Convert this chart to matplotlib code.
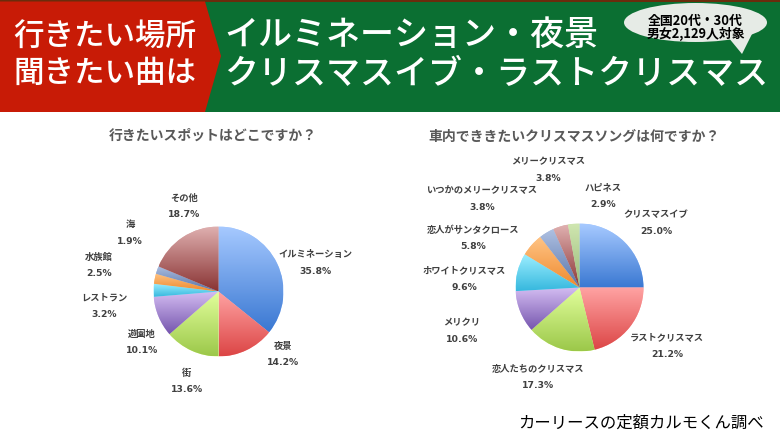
import numpy as np
import matplotlib
matplotlib.use("Agg")
import matplotlib.pyplot as plt
from matplotlib.patches import Polygon, Ellipse, Rectangle
from matplotlib.colors import to_rgb

plt.rcParams['font.family'] = ['Noto Sans CJK JP', 'DejaVu Sans']

# ---- data ----
spot_labels = ["イルミネーション", "夜景", "街", "遊園地", "レストラン", "水族館", "海", "その他"]
spot_values = [35.8, 14.2, 13.6, 10.1, 3.2, 2.5, 1.9, 18.7]

song_labels = ["クリスマスイブ", "ラストクリスマス", "恋人たちのクリスマス", "メリクリ",
               "ホワイトクリスマス", "恋人がサンタクロース", "いつかのメリークリスマス",
               "メリークリスマス", "ハピネス"]
song_values = [25.0, 21.2, 17.3, 10.6, 9.6, 5.8, 3.8, 3.8, 2.9]

title_left = "行きたいスポットはどこですか？"
title_right = "車内でききたいクリスマスソングは何ですか？"
header_red = ["行きたい場所", "聞きたい曲は"]
header_green = ["イルミネーション・夜景", "クリスマスイブ・ラストクリスマス"]
bubble_text = ["全国20代・30代", "男女2,129人対象"]
footer = "カーリースの定額カルモくん調べ"

# ---- styles ----
# (light top, dark bottom) gradient per slice, Excel-like palette order
palette = [("#a6c9ff", "#3a78d2"),
           ("#ffa3a3", "#dc4646"),
           ("#e2ff9c", "#9cc84a"),
           ("#d4bdf2", "#7656ae"),
           ("#9ceeff", "#36b8de"),
           ("#ffc384", "#ee8a2e"),
           ("#aec0e2", "#5874a8"),
           ("#dfb0b0", "#8a3434"),
           ("#cfe6b0", "#98b878")]

# label anchor positions in pixels (x, y of name line)
spot_label_pos = [(315, 255), (283, 346), (187, 373), (142, 334), (104, 298),
                  (99, 257), (130, 225), (184, 198)]
song_label_pos = [(656, 215), (667, 338), (538, 369), (462, 323), (464, 271),
                  (473, 230), (482, 191), (548, 162), (603, 188)]

W, H = 780, 439
fig = plt.figure(figsize=(W / 100, H / 100), dpi=100)
fig.patch.set_facecolor("white")

bg = fig.add_axes([0, 0, 1, 1])
bg.set_xlim(0, W)
bg.set_ylim(H, 0)
bg.axis("off")

# ---- header ----
bg.add_patch(Rectangle((0, 0), W, 113, facecolor="#0b6f32", edgecolor="none"))
bg.add_patch(Rectangle((0, 0), W, 2.5, facecolor="#6a2c0c", edgecolor="none"))
bg.add_patch(Polygon([(0, 2.5), (205, 2.5), (221, 57), (205, 113), (0, 113)],
                     closed=True, facecolor="#c81b06", edgecolor="none"))
for txt, y in zip(header_red, [37, 73]):
    bg.text(105, y, txt, color="white", fontsize=22, fontweight="medium",
            ha="center", va="center")
for txt, y in zip(header_green, [35, 75]):
    bg.text(224, y, txt, color="white", fontsize=24.5, fontweight="medium",
            ha="left", va="center")

# speech bubble
bg.add_patch(Polygon([(728, 38), (742, 55), (752, 35)], closed=True,
                     facecolor="#e6ebe6", edgecolor="none"))
bg.add_patch(Ellipse((695.5, 23.5), 143, 39, facecolor="#e6ebe6", edgecolor="none"))
for txt, y in zip(bubble_text, [21, 33.5]):
    bg.text(695.5, y, txt, color="black", fontsize=9.3, fontweight="bold",
            ha="center", va="center")

# ---- titles ----
bg.text(212.5, 136, title_left, color="#595959", fontsize=10, fontweight="bold",
        ha="center", va="center")
bg.text(574, 137, title_right, color="#595959", fontsize=10, fontweight="bold",
        ha="center", va="center")

bg.text(641, 423, footer, color="black", fontsize=11.8, ha="center", va="center")


def draw_pie(cx, cy, r, values, labels, label_pos):
    ax = fig.add_axes([(cx - r) / W, (H - cy - r) / H, 2 * r / W, 2 * r / H])
    wedges, _ = ax.pie(values, startangle=90, counterclock=False, radius=1,
                       colors=[palette[i][0] for i in range(len(values))],
                       wedgeprops=dict(edgecolor="none", linewidth=0))
    for i, w in enumerate(wedges):
        light, dark = palette[i]
        ext = w.get_path().get_extents()
        n = 64
        t = np.linspace(0, 1, n)[:, None]
        grad = (1 - t) * np.array(to_rgb(light)) + t * np.array(to_rgb(dark))
        grad = grad[:, None, :]
        im = ax.imshow(grad, extent=[ext.x0, ext.x1, ext.y0, ext.y1],
                       origin="upper", aspect="auto", interpolation="bilinear",
                       zorder=2)
        im.set_clip_path(w)
    ax.set_xlim(-1, 1)
    ax.set_ylim(-1, 1)
    ax.set_aspect("equal")
    ax.axis("off")
    for lab, v, (x, y) in zip(labels, values, label_pos):
        bg.text(x, y, lab, color="#404040", fontsize=6.7, fontweight="bold",
                ha="center", va="center")
        bg.text(x, y + 17, f"{v:.1f}%", color="#404040", fontsize=6.7,
                fontweight="bold", ha="center", va="center",
                family=["DejaVu Sans"])


draw_pie(218.5, 292.5, 65, spot_values, spot_labels, spot_label_pos)
draw_pie(579.5, 288.5, 64, song_values, song_labels, song_label_pos)

fig.savefig("out.png", dpi=100, facecolor="white")
